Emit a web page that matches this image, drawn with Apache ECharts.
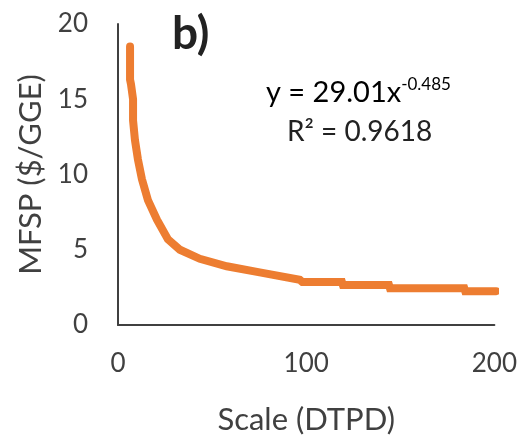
<!DOCTYPE html>
<html>
<head>
<meta charset="utf-8">
<script src="https://cdn.jsdelivr.net/npm/echarts@6/dist/echarts.min.js"></script>
<style>html,body{margin:0;padding:0;background:#fff}#c{width:520px;height:440px}</style>
</head>
<body>
<div id="c"></div>
<script>
var scaleX = [6.4, 6.4, 6.9, 8.0, 8.0, 9.0, 10.6, 12.7, 15.9, 20.7, 26.5, 32.9, 43.5, 57.8, 75.3, 96.6, 98, 119, 119.5, 144, 144.5, 184, 184.5, 201];
var mfspY = [18.5, 16.3, 16.0, 15.0, 13.6, 12.3, 11.0, 9.7, 8.3, 7.0, 5.7, 5.0, 4.4, 3.9, 3.5, 3.0, 2.85, 2.85, 2.65, 2.65, 2.45, 2.45, 2.25, 2.25];
var xTicks = [0, 100, 200];
var yTicks = [0, 5, 10, 15, 20];

var font = 'Lato, "Open Sans", sans-serif';
var chart = echarts.init(document.getElementById('c'));
chart.setOption({
  animation: false,
  grid: {left: 118, right: 24, top: 24, bottom: 114},
  xAxis: {
    type: 'value', min: xTicks[0], max: xTicks[xTicks.length - 1], interval: 100,
    name: 'Scale (DTPD)', nameLocation: 'middle', nameGap: 79,
    nameTextStyle: {fontFamily: font, fontSize: 31, color: '#404040'},
    axisLine: {show: true, lineStyle: {color: '#404040', width: 2}},
    axisTick: {show: false},
    splitLine: {show: false},
    axisLabel: {fontFamily: font, fontSize: 26, color: '#404040', margin: 26}
  },
  yAxis: {
    type: 'value', min: yTicks[0], max: yTicks[yTicks.length - 1], interval: 5,
    name: 'MFSP ($/GGE)', nameLocation: 'middle', nameGap: 69,
    nameTextStyle: {fontFamily: font, fontSize: 31, color: '#404040'},
    axisLine: {show: true, lineStyle: {color: '#404040', width: 2}},
    axisTick: {show: false},
    splitLine: {show: false},
    axisLabel: {fontFamily: font, fontSize: 26, color: '#404040', margin: 30}
  },
  series: [{
    type: 'line',
    data: scaleX.map(function (x, i) { return [x, mfspY[i]]; }),
    showSymbol: false,
    lineStyle: {color: '#ED7D31', width: 8, cap: 'round', join: 'miter'},
    itemStyle: {color: '#ED7D31'}
  }],
  graphic: [
    {type: 'text', x: 172, y: 34, style: {text: 'b)', font: 'bold 46px ' + font, fill: '#222', textAlign: 'left', textVerticalAlign: 'middle'}},
    {type: 'text', x: 266, y: 93, style: {
      text: '{a|y = 29.01x}{s|-0.485}',
      textVerticalAlign: 'middle',
      rich: {
        a: {fontFamily: font, fontSize: 29, color: '#222'},
        s: {fontFamily: font, fontSize: 17, color: '#666', verticalAlign: 'top', padding: [0, 0, 16, 0]}
      }
    }},
    {type: 'text', x: 287, y: 132, style: {text: 'R² = 0.9618', font: '28px ' + font, fill: '#222', textAlign: 'left', textVerticalAlign: 'middle'}}
  ]
});
</script>
</body>
</html>
